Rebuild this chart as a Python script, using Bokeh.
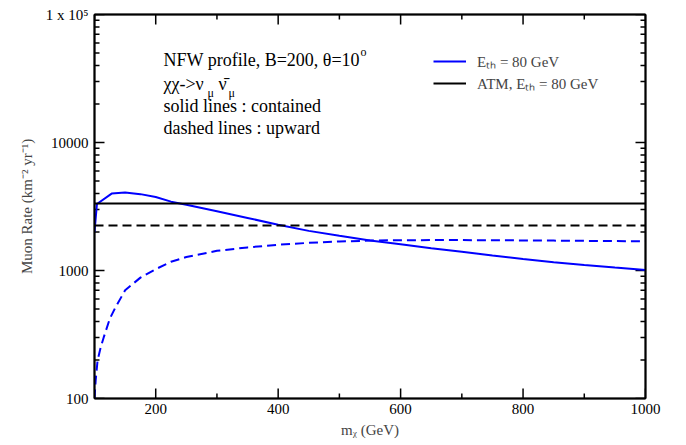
from bokeh.plotting import figure
from bokeh.models import (LinearAxis, LogAxis, FixedTicker,
                          CustomJSTickFormatter, Label, Range1d, Legend, LegendItem)
from bokeh.embed import file_html
from bokeh.resources import INLINE

# ---------------- data ----------------
mass_contained = [100, 104, 128, 150, 175, 200, 225, 250, 300, 350, 400, 450, 500,
                  550, 600, 650, 700, 750, 800, 850, 900, 950, 1000]
rate_contained = [2005, 3310, 3990, 4060, 3950, 3750, 3450, 3260, 2905, 2575, 2275, 2040, 1865,
                  1715, 1605, 1495, 1400, 1310, 1230, 1160, 1105, 1055, 1010]

mass_upward = [100, 102, 105, 110, 115, 125, 134, 150, 175, 200, 225, 250, 300, 350, 400,
               450, 500, 550, 600, 650, 700, 750, 800, 850, 900, 950, 1000]
rate_upward = [100, 140, 198, 250, 300, 420, 513, 700, 880, 1025, 1170, 1275, 1425, 1515, 1590,
               1645, 1685, 1712, 1725, 1728, 1728, 1725, 1718, 1712, 1705, 1697, 1690]

atm_mass = [100, 1000]
atm_contained = [3340, 3340]
atm_upward = [2250, 2250]

x_major_ticks = [200, 400, 600, 800, 1000]
x_minor_ticks = [100, 300, 500, 700, 900]
y_major_ticks = [100, 1000, 10000, 100000]
y_minor_ticks = [k * 10 ** d for d in (2, 3, 4) for k in range(2, 10)]

X_MIN, X_MAX = 100, 1000
Y_MIN, Y_MAX = 100, 1e5
FONT = "Liberation Serif"

# frame geometry in page pixels (used only to place annotations / tick lengths)
FL, FR, FT, FB = 94, 645, 14, 398

p = figure(width=686, height=445, x_range=Range1d(X_MIN, X_MAX), y_range=Range1d(Y_MIN, Y_MAX),
           y_axis_type="log", output_backend="svg", toolbar_location=None,
           min_border_left=FL, min_border_right=686 - FR, min_border_top=FT, min_border_bottom=445 - FB)
p.xgrid.visible = False
p.ygrid.visible = False
p.outline_line_color = "black"
p.outline_line_width = 1.5
p.background_fill_color = "white"
p.border_fill_color = "white"

yfmt = CustomJSTickFormatter(code="return tick >= 99999 ? '1 x 10\u2075' : tick.toFixed(0);")


def style(ax, labels=True):
    ax.axis_line_color = "black"
    ax.axis_line_width = 2
    ax.major_tick_in = 0
    ax.major_tick_out = 0
    ax.minor_tick_in = 0
    ax.minor_tick_out = 0
    if labels:
        ax.major_label_text_font = FONT
        ax.major_label_text_font_size = "15px"
        ax.major_label_text_color = "black"
    else:
        ax.major_label_text_font_size = "1px"
        ax.major_label_text_color = None
        ax.major_label_standoff = 0


p.xaxis.ticker = FixedTicker(ticks=x_major_ticks, minor_ticks=x_minor_ticks)
p.yaxis.ticker = FixedTicker(ticks=y_major_ticks, minor_ticks=y_minor_ticks)
p.yaxis.formatter = yfmt
style(p.xaxis[0])
style(p.yaxis[0])
p.xaxis.major_label_standoff = 5
p.yaxis.major_label_standoff = 6
p.xaxis.axis_label = "m\u1d6a (GeV)"
p.xaxis.axis_label_text_font = FONT
p.xaxis.axis_label_text_font_size = "15px"
p.xaxis.axis_label_text_font_style = "normal"
p.xaxis.axis_label_standoff = 5
p.yaxis.axis_label = "Muon Rate (km\u207b\u00b2 yr\u207b\u00b9)"
p.yaxis.axis_label_text_font = FONT
p.yaxis.axis_label_text_font_size = "15px"
p.yaxis.axis_label_text_font_style = "normal"
p.yaxis.axis_label_standoff = 8

top = LinearAxis(ticker=FixedTicker(ticks=x_major_ticks, minor_ticks=x_minor_ticks))
style(top, labels=False)
p.add_layout(top, "above")
right = LogAxis(ticker=FixedTicker(ticks=y_major_ticks, minor_ticks=y_minor_ticks))
style(right, labels=False)
p.add_layout(right, "right")


def dx(px):
    return X_MIN + (px - FL) * (X_MAX - X_MIN) / (FR - FL)


def dy(py):
    return 10 ** (2 + (FB - py) * 3 / (FB - FT))


# inward ticks on all four sides, drawn from the tick arrays
tick_kw = dict(line_color="black", line_width=1.5)
for vals, ln in ((x_major_ticks, 10), (x_minor_ticks, 5)):
    n = len(vals)
    p.segment(x0=vals, x1=vals, y0=[Y_MIN] * n, y1=[dy(FB - ln)] * n, **tick_kw)
    p.segment(x0=vals, x1=vals, y0=[Y_MAX] * n, y1=[dy(FT + ln)] * n, **tick_kw)
for vals, ln in ((y_major_ticks, 10), (y_minor_ticks, 5)):
    n = len(vals)
    p.segment(x0=[X_MIN] * n, x1=[dx(FL + ln)] * n, y0=vals, y1=vals, **tick_kw)
    p.segment(x0=[X_MAX] * n, x1=[dx(FR - ln)] * n, y0=vals, y1=vals, **tick_kw)

# ---------------- curves ----------------
r_bc = p.line(mass_contained, rate_contained, line_color="#0000ff", line_width=2)
p.line(mass_upward, rate_upward, line_color="#0000ff", line_width=2, line_dash="9 5")
r_ac = p.line(atm_mass, atm_contained, line_color="black", line_width=2)
p.line(atm_mass, atm_upward, line_color="black", line_width=2, line_dash="9 5")

legend = Legend(items=[LegendItem(label="E\u209c\u2095 = 80 GeV", renderers=[r_bc]),
                       LegendItem(label="ATM, E\u209c\u2095 = 80 GeV", renderers=[r_ac])],
                location=(339, 305), border_line_color=None, background_fill_alpha=0,
                padding=0, margin=0, spacing=2, glyph_width=33, label_standoff=11,
                label_text_font=FONT, label_text_font_size="15px", label_height=20, glyph_height=20)
p.add_layout(legend)


# ---------------- text annotations ----------------
def lab(px, py, text, size="18px"):
    p.add_layout(Label(x=dx(px), y=dy(py), text=text, text_font=FONT, text_font_size=size,
                       text_baseline="middle", text_align="left", text_color="black"))


lab(163, 59, "NFW profile, B=200, \u03b8=10")
lab(360, 51, "o", "12px")
lab(163, 83, "\u03c7\u03c7->\u03bd")
lab(207, 92, "\u03bc", "12px")
lab(218, 83, "\u03bd\u0304")
lab(228, 92, "\u03bc", "12px")
lab(163, 105, "solid lines : contained")
lab(163, 127, "dashed lines : upward")

open("out.html", "w").write(file_html(p, INLINE))
